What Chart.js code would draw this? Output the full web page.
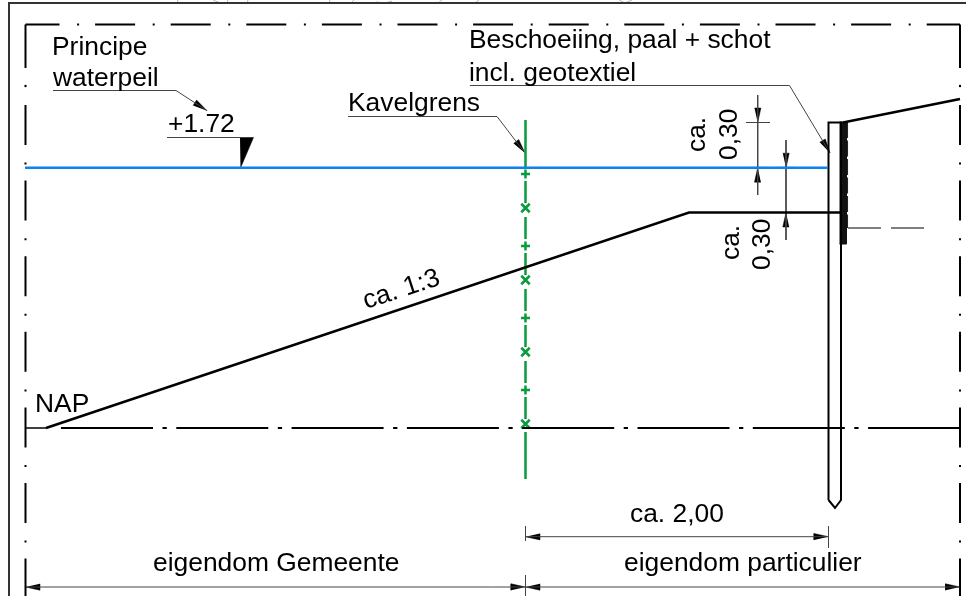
<!DOCTYPE html>
<html>
<head>
<meta charset="utf-8">
<title>Principe waterpeil</title>
<script src="https://cdn.jsdelivr.net/npm/chart.js@4"></script>
<style>
  html, body { margin: 0; padding: 0; background: #fff; }
  canvas { display: block; }
</style>
</head>
<body>
<canvas id="myChart" width="966" height="596"></canvas>
<script>
// Drawing units: one unit is one pixel of the sheet, y runs downwards
const sheetWidth = 966;
const sheetHeight = 596;

// Sheet border
const sheetBorder = [[966, 3], [9, 3], [9, 596]];
const sheetTraces = [
    [[178, 0], [177, 3]], [[213, 0], [220, 3]], [[227, 3], [228, 0]], [[247, 3], [248, 0]],
    [[329, 3], [330, 0]], [[351, 3], [354, 0]], [[376, 2], [385, 3], [392, 1]],
    [[438, 3], [442, 0]], [[475, 3], [479, 0]], [[619, 0], [625, 3], [632, 0]]
];

// Dash-dot outline of the plot
const outlineTop = [[25.5, 24.5], [960, 24.5]];
const outlineLeft = [[25.5, 105], [25.5, 596]];
const outlineRight = [[960, 105], [960, 596]];
const outlineCorners = [[[25.5, 24.5], [25.5, 68]], [[960, 24.5], [960, 68]]];
const outlineDots = [[25.5, 86], [960, 86]];

// Levels and profile
const waterLevel = [[25, 167.7], [828, 167.7]];
const napLevel = [[61, 428], [960, 428]];
const napStub = [[25.5, 428], [46, 428]];
const slope = [[46, 428], [689, 212.5], [840, 212.5]];
const bankTop = [[843, 122.5], [960, 99]];

// Sheet pile
const pile = [[828.5, 500], [828.5, 122.5], [841, 122.5], [841, 500], [835, 508], [828.5, 500]];
const pileFacing = [[839.5, 122], [846.5, 122], [846.5, 244], [839.5, 244]];
const geotextile = [[847.3, 122], [847.3, 228]];
const anchor = [[848, 228], [925, 228]];

// Plot boundary
const boundary = [
    [120, 168], [181, 203], [217, 239], [253, 275], [289, 311],
    [325, 347], [361, 383], [397, 419], [432, 479]
];
const boundaryX = 525.5;
const boundaryPlus = [174, 246, 318, 390];
const boundaryCross = [208, 280, 352, 424];

// Dimension and leader lines
const thinLines = [
    [[25.5, 587], [960, 587]],
    [[525.5, 575], [525.5, 596]],
    [[525.5, 536.7], [828.5, 536.7]],
    [[525.5, 526], [525.5, 541]],
    [[828.5, 526], [828.5, 548]],
    [[757.7, 95], [757.7, 195]],
    [[746, 122.5], [770, 122.5]],
    [[786, 140], [786, 240]],
    [[53, 90.5], [176, 90.5], [207, 110.7]],
    [[167, 137.5], [240, 137.5]],
    [[348, 116.5], [497, 116.5], [525, 153]],
    [[470, 85.5], [789.5, 85.5], [830, 153]]
];
const darkTicks = [
    [[746, 167.7], [770, 167.7]],
    [[774.5, 167.7], [797.5, 167.7]]
];

// Arrow heads: tip, then a point on the shaft
const arrows = [
    [[25.5, 587], [60, 587]], [[525.5, 587], [480, 587]], [[525.5, 587], [570, 587]], [[960, 587], [900, 587]],
    [[525.5, 536.7], [570, 536.7]], [[828.5, 536.7], [780, 536.7]],
    [[757.7, 122.5], [757.7, 95]], [[757.7, 167.7], [757.7, 195]],
    [[786, 167.7], [786, 140]], [[786, 212.5], [786, 240]],
    [[207, 110.7], [176, 90.5]], [[525, 153], [497, 116.5]], [[830, 153], [789.5, 85.5]]
];
const levelMark = [[240, 137.5], [253.5, 137.5], [240.5, 168]];

// Labels: text, x, y, rotation in degrees
const labels = [
    ['Principe', 52, 55, 0],
    ['waterpeil', 53, 86, 0],
    ['+1.72', 168, 132, 0],
    ['Kavelgrens', 348, 111, 0],
    ['Beschoeiing, paal + schot', 469, 48, 0],
    ['incl. geotextiel', 469, 81, 0],
    ['ca.', 705, 152, -90],
    ['0,30', 737, 160, -90],
    ['ca.', 739, 260, -90],
    ['0,30', 770, 270, -90],
    ['ca. 1:3', 366, 309, -18],
    ['NAP', 35, 412, 0],
    ['eigendom Gemeente', 153, 571, 0],
    ['eigendom particulier', 624, 571, 0],
    ['ca. 2,00', 630, 522, 0]
];

const black = '#000';
const thin = '#444';
const green = '#0a9b3c';
const blue = '#0a82f0';

function line(points, color, width, extra) {
    return Object.assign({
        data: points,
        borderColor: color,
        backgroundColor: color,
        borderWidth: width,
        pointRadius: 0,
        showLine: true,
        fill: false,
        tension: 0,
        clip: false
    }, extra || {});
}

function arrowHead(tip, from) {
    const dx = from[0] - tip[0], dy = from[1] - tip[1];
    const len = Math.hypot(dx, dy);
    const ux = dx / len, uy = dy / len;
    return [
        tip,
        [tip[0] + ux * 14.5 - uy * 3.2, tip[1] + uy * 14.5 + ux * 3.2],
        [tip[0] + ux * 14.5 + uy * 3.2, tip[1] + uy * 14.5 - ux * 3.2]
    ];
}

const dashDot = { borderDash: [40, 17.6, 2, 16], borderCapStyle: 'butt' };

const datasets = [
    line(sheetBorder, '#333', 2),
    ...sheetTraces.map(t => line(t, '#bbb', 1)),
    line(outlineTop, black, 2, Object.assign({ borderDashOffset: 6 }, dashDot)),
    line(outlineLeft, black, 2, dashDot),
    line(outlineRight, black, 2, dashDot),
    ...outlineCorners.map(c => line(c, black, 2)),
    line(outlineDots, black, 0, { showLine: false, pointRadius: 1.2 }),
    line(waterLevel, blue, 2.5),
    line(napStub, black, 1.5),
    line(napLevel, black, 2, { borderDash: [92, 9.5, 4.3, 9.5] }),
    line(slope, black, 2.5),
    line(bankTop, black, 2.5),
    ...boundary.map(b => line([[boundaryX, b[0]], [boundaryX, b[1]]], green, 2.5)),
    line(boundaryPlus.map(y => [boundaryX, y]), green, 2, { showLine: false, pointStyle: 'cross', pointRadius: 4.5, pointBorderColor: green, pointBorderWidth: 2.5 }),
    line(boundaryCross.map(y => [boundaryX, y]), green, 2, { showLine: false, pointStyle: 'crossRot', pointRadius: 6, pointBorderColor: green, pointBorderWidth: 2.5 }),
    line(pile, black, 2),
    line(pileFacing, '#111', 1, { fill: 'shape' }),
    line(geotextile, '#222', 1.5, { borderDash: [16, 2.5] }),
    line(anchor, black, 1, { borderDash: [33, 10] }),
    ...thinLines.map(l => line(l, thin, 1)),
    ...darkTicks.map(l => line(l, '#222', 1.5)),
    ...arrows.map(a => line(arrowHead(a[0], a[1]), black, 0.5, { fill: 'shape' })),
    line(levelMark, black, 0.5, { fill: 'shape' })
];

// Texts are placed through the same scales as the lines
const sheetLabels = {
    id: 'sheetLabels',
    afterDatasetsDraw(chart) {
        const c = chart.ctx;
        const sx = chart.scales.x, sy = chart.scales.y;
        c.save();
        c.fillStyle = '#000';
        c.font = '26.4px "Liberation Sans", Arial, sans-serif';
        c.textBaseline = 'alphabetic';
        labels.forEach(l => {
            c.save();
            c.translate(sx.getPixelForValue(l[1]), sy.getPixelForValue(l[2]));
            c.rotate(l[3] * Math.PI / 180);
            c.fillText(l[0], 0, 0);
            c.restore();
        });
        c.restore();
    }
};

new Chart(document.getElementById('myChart'), {
    type: 'scatter',
    data: { datasets: datasets },
    options: {
        responsive: false,
        animation: false,
        layout: { padding: 0, autoPadding: false },
        plugins: { legend: { display: false }, tooltip: { enabled: false } },
        scales: {
            x: { type: 'linear', display: false, min: 0, max: sheetWidth },
            y: { type: 'linear', display: false, min: 0, max: sheetHeight, reverse: true }
        }
    },
    plugins: [sheetLabels]
});
</script>
</body>
</html>
